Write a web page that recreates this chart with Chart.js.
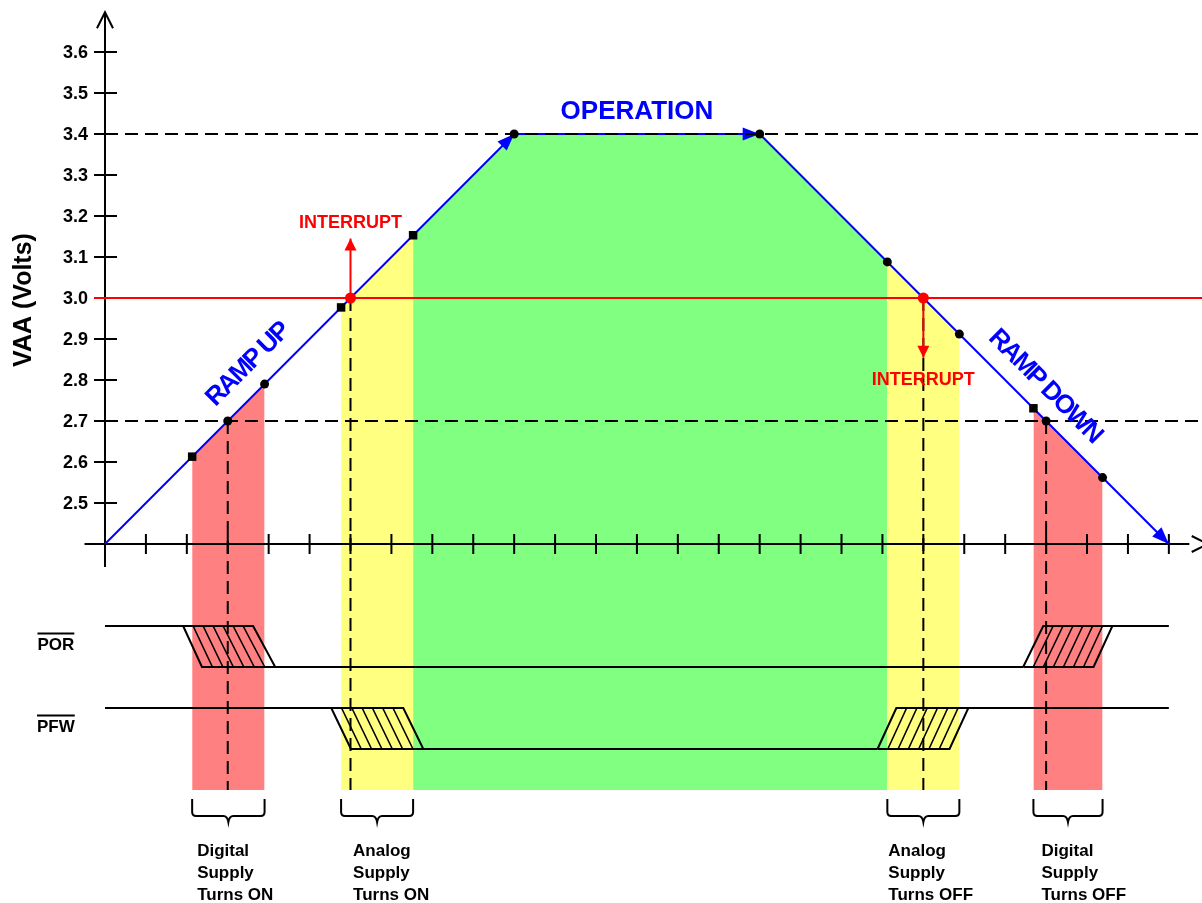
<!DOCTYPE html>
<html>
<head>
<meta charset="utf-8">
<script src="https://cdn.jsdelivr.net/npm/chart.js@4.4.1/dist/chart.umd.min.js"></script>
<style>
  html,body{margin:0;padding:0;background:#fff;}
  #wrap{width:1202px;height:903px;}
</style>
</head>
<body>
<div id="wrap"><canvas id="c" width="1202" height="903"></canvas></div>
<script>
// ---- axis ticks ----
const yTicks      = [2.5, 2.6, 2.7, 2.8, 2.9, 3.0, 3.1, 3.2, 3.3, 3.4, 3.5, 3.6];
const yTickLabels = ['2.5','2.6','2.7','2.8','2.9','3.0','3.1','3.2','3.3','3.4','3.5','3.6'];
const xTicks      = [1,2,3,4,5,6,7,8,9,10,11,12,13,14,15,16,17,18,19,20,21,22,23,24,25,26];

// ---- VAA ramp ----
const rampX = [0, 10, 16, 26];
const rampY = [2.4, 3.4, 3.4, 2.4];

// ---- shaded windows (follow the ramp, filled down to bandFloor) ----
const digitalOnX  = [2.13, 3.9];              const digitalOnY  = [2.613, 2.79];
const analogOnX   = [5.77, 7.53];             const analogOnY   = [2.977, 3.153];
const operationX  = [7.53, 10, 16, 19.12];    const operationY  = [3.153, 3.4, 3.4, 3.088];
const analogOffX  = [19.12, 20.88];           const analogOffY  = [3.088, 2.912];
const digitalOffX = [22.69, 24.38];           const digitalOffY = [2.731, 2.562];
const bandFloor = 1.8;

// ---- markers ----
const dotX    = [3, 3.9, 10, 16, 19.12, 20.88, 23, 24.38];
const dotY    = [2.7, 2.79, 3.4, 3.4, 3.088, 2.912, 2.7, 2.562];
const squareX = [2.13, 5.77, 7.53, 22.69];
const squareY = [2.613, 2.977, 3.153, 2.731];
const interruptX    = [6, 20];
const interruptY    = [3.0, 3.0];
const interruptTipY = [3.145, 2.854];

// ---- thresholds ----
const vRegulated = 3.4, vInterrupt = 3.0, vPor = 2.7;
const dropX     = [3, 6, 20, 23];
const dropFromY = [2.7, 3.0, 3.0, 2.7];

// ---- timing signals ----
const porHi = 2.2, porLo = 2.1, pfwHi = 2.0, pfwLo = 1.9;
const porFallTop = [1.91, 3.62],   porFallBot = [2.37, 4.16];
const porRiseBot = [22.44, 24.16], porRiseTop = [22.93, 24.62];
const pfwFallTop = [5.53, 7.29],   pfwFallBot = [6.01, 7.78];
const pfwRiseBot = [18.88, 20.64], pfwRiseTop = [19.34, 21.1];
const signalEnd = 26;

const braceLabels = [
  ['Digital','Supply','Turns ON'],
  ['Analog','Supply','Turns ON'],
  ['Analog','Supply','Turns OFF'],
  ['Digital','Supply','Turns OFF']
];

// ---- view ----
const xMin = -2.566, xMax = 26.81, yMin = 1.5244, yMax = 3.7268;
const BLUE = '#0000ff', RED = '#ff0000', BLACK = '#000000';
const PINK = '#ff8080', YELLOW = '#ffff80', GREEN = '#80ff80';
const FONT = '"Liberation Sans", Arial, Helvetica, sans-serif';

const pts = (xs, ys) => xs.map((x, i) => ({x, y: ys[i]}));
const seg = (x1, y1, x2, y2) => [{x:x1, y:y1}, {x:x2, y:y2}];

function band(xs, ys, color, extra){
  return Object.assign({ data: pts(xs, ys), borderColor:'rgba(0,0,0,0)', borderWidth:0, pointRadius:0,
    fill:{value: bandFloor}, backgroundColor: color, order: 90 }, extra||{});
}
function wire(data, extra){
  return Object.assign({ data, borderColor: BLACK, borderWidth: 2, pointRadius: 0, fill:false, order: 70 }, extra||{});
}
function fallShape(top, bot, hi, lo){
  return [{x:top[0],y:hi},{x:top[1],y:hi},{x:bot[1],y:lo},{x:bot[0],y:lo},{x:top[0],y:hi}];
}
function riseShape(bot, top, hi, lo){
  return [{x:bot[0],y:lo},{x:bot[1],y:lo},{x:top[1],y:hi},{x:top[0],y:hi},{x:bot[0],y:lo}];
}

const datasets = [
  band(digitalOnX, digitalOnY, PINK),
  band(analogOnX, analogOnY, YELLOW),
  band(operationX, operationY, GREEN, {order: 85, deco: 'axes'}),
  band(analogOffX, analogOffY, YELLOW),
  band(digitalOffX, digitalOffY, PINK),

  // POR
  wire(seg(0, porHi, porFallTop[1], porHi)),
  wire(fallShape(porFallTop, porFallBot, porHi, porLo), {deco:'hatch'}),
  wire(seg(porFallBot[0], porLo, porRiseBot[0], porLo)),
  wire(riseShape(porRiseBot, porRiseTop, porHi, porLo), {deco:'hatch'}),
  wire(seg(porRiseTop[1], porHi, signalEnd, porHi)),
  // PFW
  wire(seg(0, pfwHi, pfwFallTop[1], pfwHi)),
  wire(fallShape(pfwFallTop, pfwFallBot, pfwHi, pfwLo), {deco:'hatch'}),
  wire(seg(pfwFallBot[0], pfwLo, pfwRiseBot[0], pfwLo)),
  wire(riseShape(pfwRiseBot, pfwRiseTop, pfwHi, pfwLo), {deco:'hatch'}),
  wire(seg(pfwRiseTop[1], pfwHi, signalEnd, pfwHi)),

  // interrupt threshold
  wire(seg(-0.27, vInterrupt, xMax, vInterrupt), {borderColor: RED, order: 60}),
  // ramp
  wire(pts(rampX, rampY), {borderColor: BLUE, order: 55, deco: 'rampArrows'}),
  // dashed levels
  wire(seg(0, vRegulated, xMax, vRegulated), {borderDash:[13,7], order: 50}),
  wire(seg(0, vPor, xMax, vPor), {borderDash:[13,7], order: 50}),
  // drop lines
  ...dropX.map((x, i) => wire(seg(x, dropFromY[i], x, bandFloor), {borderDash:[13,7], order: 45})),
  // interrupt arrows
  ...interruptX.map((x, i) => wire(seg(x, interruptY[i], x, interruptTipY[i]), {borderColor: RED, order: 40, deco: 'arrowEnd'})),
  // markers
  { data: pts(dotX, dotY), showLine:false, pointRadius:4.5, pointStyle:'circle', pointBackgroundColor:BLACK, pointBorderWidth:0, order:10 },
  { data: pts(squareX, squareY), showLine:false, pointRadius:6, pointStyle:'rect', pointBackgroundColor:BLACK, pointBorderWidth:0, order:10 },
  { data: pts(interruptX, interruptY), showLine:false, pointRadius:5.5, pointStyle:'circle', pointBackgroundColor:RED, pointBorderWidth:0, order:10 }
];

// arrowhead helper
function arrowHead(ctx, from, to, len, half, color){
  const dx = to.x - from.x, dy = to.y - from.y, d = Math.hypot(dx, dy);
  const ux = dx/d, uy = dy/d, bx = to.x - ux*len, by = to.y - uy*len;
  ctx.save(); ctx.fillStyle = color;
  ctx.beginPath();
  ctx.moveTo(to.x, to.y);
  ctx.lineTo(bx - uy*half, by + ux*half);
  ctx.lineTo(bx + uy*half, by - ux*half);
  ctx.closePath(); ctx.fill(); ctx.restore();
}

function hatch(ctx, p){
  const ys = p.map(q => q.y), top = Math.min(...ys), bot = Math.max(...ys);
  const tx = p.filter(q => Math.abs(q.y - top) < 0.5).map(q => q.x);
  const bxs = p.filter(q => Math.abs(q.y - bot) < 0.5).map(q => q.x);
  const tl = Math.min(...tx), tr = Math.max(...tx), bl = Math.min(...bxs), br = Math.max(...bxs);
  ctx.save(); ctx.strokeStyle = BLACK; ctx.lineWidth = 1.6; ctx.beginPath();
  for (let k = 1; k < 7; k++){
    ctx.moveTo(tl + k*(tr-tl)/7, top);
    ctx.lineTo(bl + k*(br-bl)/7, bot);
  }
  ctx.stroke(); ctx.restore();
}

function drawAxes(chart){
  const {ctx, scales:{x, y}} = chart;
  const x0 = x.getPixelForValue(0), y0 = y.getPixelForValue(2.4);
  ctx.save();
  ctx.strokeStyle = BLACK; ctx.lineWidth = 2;
  ctx.beginPath();
  ctx.moveTo(x.getPixelForValue(-0.5), y0); ctx.lineTo(x.getPixelForValue(26.5), y0);
  ctx.moveTo(x0, y.getPixelForValue(2.344)); ctx.lineTo(x0, y.getPixelForValue(3.697));
  xTicks.forEach(t => { const px = x.getPixelForValue(t); ctx.moveTo(px, y0 - 10); ctx.lineTo(px, y0 + 10); });
  yTicks.forEach(t => { const py = y.getPixelForValue(t); ctx.moveTo(x0 - 11, py); ctx.lineTo(x0 + 12, py); });
  const yt = y.getPixelForValue(3.697);
  ctx.moveTo(x0 - 8, yt + 16); ctx.lineTo(x0, yt); ctx.lineTo(x0 + 8, yt + 16);
  const xt = x.getPixelForValue(26.95);
  ctx.moveTo(xt - 16, y0 - 8); ctx.lineTo(xt, y0); ctx.lineTo(xt - 16, y0 + 8);
  ctx.stroke();

  ctx.fillStyle = BLACK; ctx.font = `bold 18px ${FONT}`;
  ctx.textAlign = 'right'; ctx.textBaseline = 'middle';
  yTicks.forEach((t, i) => ctx.fillText(yTickLabels[i], x0 - 17, y.getPixelForValue(t) + 1));
  ctx.restore();
}

function brace(ctx, xl, xr, base){
  const a = base + 9, h = base + 26, tip = base + 32, r = 4, m = (xl + xr)/2;
  ctx.beginPath();
  ctx.moveTo(xl, a); ctx.lineTo(xl, h - r); ctx.quadraticCurveTo(xl, h, xl + r, h);
  ctx.lineTo(m - 5, h); ctx.quadraticCurveTo(m - 1, h, m, tip); ctx.quadraticCurveTo(m + 1, h, m + 5, h);
  ctx.lineTo(xr - r, h); ctx.quadraticCurveTo(xr, h, xr, h - r); ctx.lineTo(xr, a);
  ctx.stroke();
}

function drawText(ctx, txt, px, py, font, color, align, rot, spacing){
  ctx.save();
  ctx.font = font; ctx.fillStyle = color; ctx.textAlign = align || 'center'; ctx.textBaseline = 'middle';
  if (spacing) ctx.letterSpacing = spacing;
  ctx.translate(px, py); if (rot) ctx.rotate(rot * Math.PI/180);
  ctx.fillText(txt, 0, 0);
  ctx.restore();
}

const diagram = {
  id: 'diagram',
  afterDatasetDraw(chart, args){
    const ds = chart.data.datasets[args.index], ctx = chart.ctx, p = args.meta.data;
    if (ds.deco === 'axes') drawAxes(chart);
    else if (ds.deco === 'hatch') hatch(ctx, p);
    else if (ds.deco === 'rampArrows') { for (let i = 1; i < p.length; i++) arrowHead(ctx, p[i-1], p[i], 17, 6.5, BLUE); }
    else if (ds.deco === 'arrowEnd') arrowHead(ctx, p[0], p[1], 12, 6, RED);
  },
  afterDatasetsDraw(chart){
    const {ctx, scales:{x, y}} = chart;
    const X = v => x.getPixelForValue(v), Y = v => y.getPixelForValue(v);

    // titles / annotations
    drawText(ctx, 'VAA (Volts)', 24, Y(vInterrupt) + 2, `bold 25px ${FONT}`, BLACK, 'center', -90);
    drawText(ctx, 'OPERATION', X(13), Y(vRegulated) - 22, `bold 26px ${FONT}`, BLUE);
    drawText(ctx, 'INTERRUPT', X(interruptX[0]), Y(interruptTipY[0]) - 16, `bold 18px ${FONT}`, RED);
    drawText(ctx, 'INTERRUPT', X(interruptX[1]), Y(interruptTipY[1]) + 22, `bold 18px ${FONT}`, RED);
    drawText(ctx, 'RAMP UP', X(3.49), Y(2.837), `bold 26px ${FONT}`, BLUE, 'center', -45, '-2px');
    drawText(ctx, 'RAMP DOWN', X(22.97), Y(2.785), `bold 26px ${FONT}`, BLUE, 'center', 45, '-2px');

    // signal names with overbar
    [['POR', (porHi + porLo)/2], ['PFW', (pfwHi + pfwLo)/2]].forEach(([name, v]) => {
      const cx = X(-1.2), cy = Y(v) - 1;
      drawText(ctx, name, cx, cy, `bold 17px ${FONT}`, BLACK);
      ctx.save(); ctx.font = `bold 17px ${FONT}`;
      const w = ctx.measureText(name).width;
      ctx.strokeStyle = BLACK; ctx.lineWidth = 2; ctx.beginPath();
      ctx.moveTo(cx - w/2, cy - 12); ctx.lineTo(cx + w/2, cy - 12); ctx.stroke();
      ctx.restore();
    });

    // braces + captions
    const spans = [digitalOnX, analogOnX, analogOffX, digitalOffX];
    const captionShift = [5, 12, 1, 8];
    const base = Y(bandFloor);
    ctx.save(); ctx.strokeStyle = BLACK; ctx.lineWidth = 2;
    spans.forEach((s, i) => {
      const xl = X(s[0]), xr = X(s[s.length - 1]);
      brace(ctx, xl, xr, base);
      ctx.font = `bold 17px ${FONT}`; ctx.fillStyle = BLACK; ctx.textAlign = 'left'; ctx.textBaseline = 'alphabetic';
      braceLabels[i].forEach((line, j) => ctx.fillText(line, xl + captionShift[i], base + 66 + j*22));
    });
    ctx.restore();
  }
};

new Chart(document.getElementById('c'), {
  type: 'line',
  data: { datasets },
  options: {
    responsive: false,
    animation: false,
    devicePixelRatio: 1,
    events: [],
    layout: { padding: 0, autoPadding: false },
    elements: { line: { tension: 0 } },
    plugins: { legend: { display: false }, tooltip: { enabled: false } },
    scales: {
      x: { type: 'linear', min: xMin, max: xMax, display: false },
      y: { type: 'linear', min: yMin, max: yMax, display: false }
    }
  },
  plugins: [diagram]
});
</script>
</body>
</html>
